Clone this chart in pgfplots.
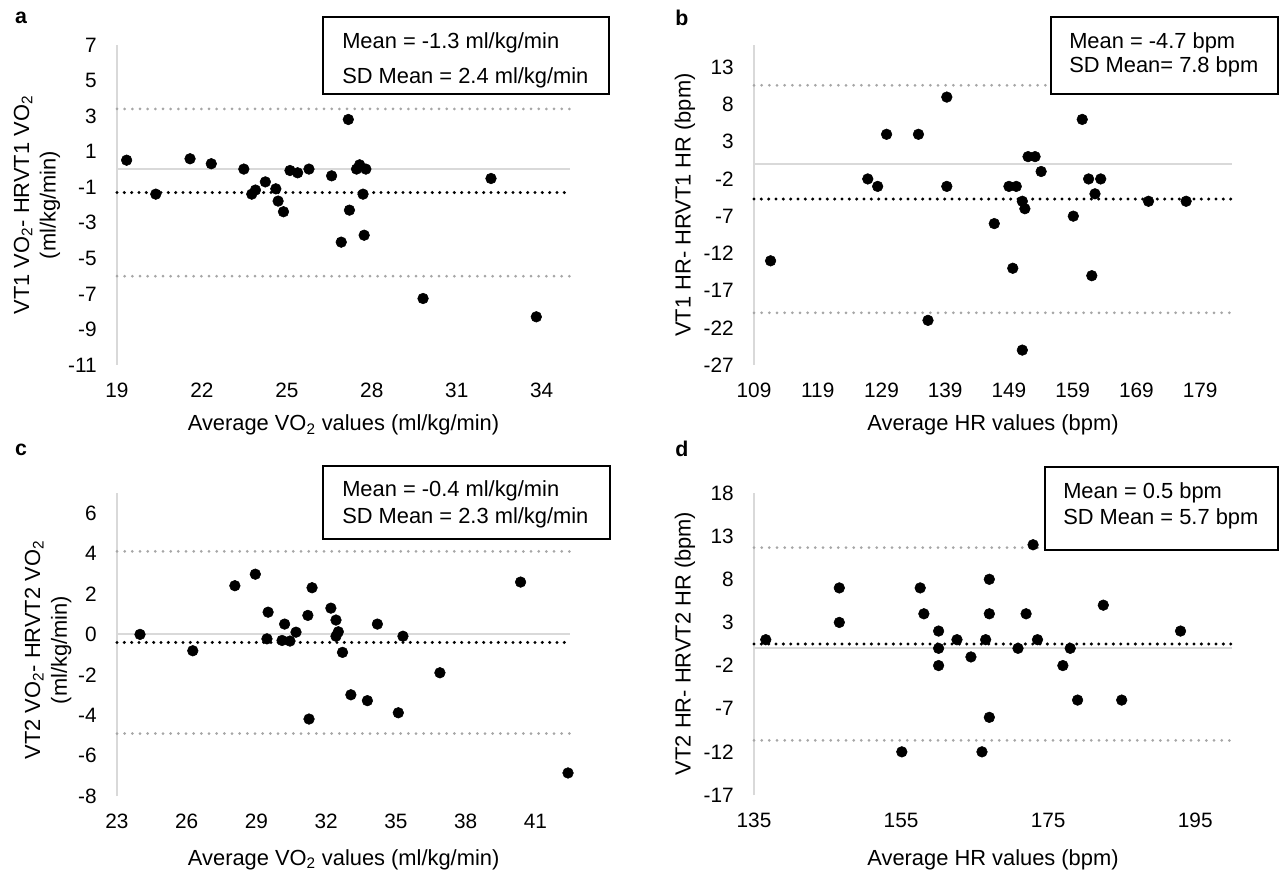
\documentclass[border=0pt]{standalone}
\usepackage{fontspec}
\setmainfont{Liberation Sans}
\usepackage{pgfplots}
\pgfplotsset{compat=1.18}

\definecolor{zline}{HTML}{D9D9D9}
\definecolor{loa}{HTML}{A6A6A6}

\newcommand\boxfont{\fontsize{16.4}{20}\selectfont}
\newcommand\labfont{\fontsize{16.4}{20}\selectfont}

\pgfplotsset{
  ba/.style={
    scale only axis,
    clip=false,
    axis x line*=bottom, axis y line*=left,
    x axis line style={draw=none},
    y axis line style={draw=zline, line width=1.5pt, -},
    major tick length=0pt,
    tick style={draw=none},
    /pgf/number format/assume math mode=true,
    tick label style={font=\fontsize{15.6}{18}\selectfont, inner sep=0pt},
    xticklabel style={anchor=base, yshift=-24.5pt},
    yticklabel style={anchor=east, xshift=-15pt},
  },
  pts/.style={only marks, mark=*, mark size=4pt, black, mark options={fill=black, draw=black}},
  loaline/.style={loa, line width=2.25pt, line cap=round, dash pattern=on 0pt off 5.75pt},
  meanline/.style={black, line width=2.5pt, line cap=round, dash pattern=on 0pt off 5.5pt},
  zeroline/.style={zline, line width=1.5pt},
}

\begin{document}
\begin{tikzpicture}
\useasboundingbox (0,0) rectangle (960pt,655.5pt);

% ---- a
\begin{axis}[ba, at={(87.75pt,381.75pt)}, anchor=south west,
  width=339.75pt, height=240pt,
  xmin=19, xmax=35, ymin=-11, ymax=7,
  xtick={19,22,...,34}, ytick={-11,-9,...,7},
  every axis x label/.style={at={(rel axis cs:0.5,-0.206)}, anchor=base, font=\labfont},
  every axis y label/.style={at={(rel axis cs:-0.1766,0.5)}, anchor=center, rotate=90, align=center, font=\labfont},
  xlabel={Average VO\textsubscript{2} values (ml/kg/min)},
  ylabel={VT1 VO\textsubscript{2}- HRVT1 VO\textsubscript{2}\\(ml/kg/min)}]
\addplot[zeroline] coordinates {(19,0) (35,0)};
\addplot[loaline] coordinates {(19,3.404) (35,3.404)};
\addplot[loaline] coordinates {(19,-6.004) (35,-6.004)};
\addplot[meanline] coordinates {(19,-1.3) (35,-1.3)};
\addplot[pts] coordinates {
(19.34,0.52) (20.37,-1.39) (21.58,0.6) (22.33,0.32) (23.48,0.02) (23.76,-1.39)
(23.89,-1.16) (24.24,-0.7) (24.61,-1.09) (24.69,-1.78) (24.88,-2.38) (25.11,-0.06)
(25.38,-0.19) (25.78,0.02) (26.58,-0.36) (27.17,2.81) (27.21,-2.29) (26.92,-4.09)
(27.46,0.02) (27.57,0.26) (27.79,0.02) (27.69,-1.39) (27.73,-3.7) (29.81,-7.26)
(32.21,-0.51) (33.81,-8.29)};
\end{axis}

% ---- b
\begin{axis}[ba, at={(565.5pt,381.75pt)}, anchor=south west,
  width=358.5pt, height=240pt,
  xmin=109, xmax=184, ymin=-27, ymax=16,
  xtick={109,119,...,179}, ytick={-27,-22,...,13},
  every axis x label/.style={at={(rel axis cs:0.5,-0.206)}, anchor=base, font=\labfont},
  every axis y label/.style={at={(rel axis cs:-0.1444,0.5)}, anchor=center, rotate=90, align=center, font=\labfont},
  xlabel={Average HR values (bpm)},
  ylabel={VT1 HR- HRVT1 HR (bpm)}]
\addplot[zeroline] coordinates {(109,0) (184,0)};
\addplot[loaline] coordinates {(109,10.588) (184,10.588)};
\addplot[loaline] coordinates {(109,-19.988) (184,-19.988)};
\addplot[meanline] coordinates {(109,-4.7) (184,-4.7)};
\addplot[pts] coordinates {
(111.6,-13) (126.85,-2) (128.4,-3) (129.8,4) (134.8,4) (136.3,-21) (139.25,9)
(139.25,-3) (146.7,-8) (149.0,-3) (150.15,-3) (149.6,-14) (151.1,-5) (151.5,-6)
(151.1,-25) (152.0,1) (153.1,1) (154.05,-1) (159.1,-7) (160.5,6) (161.5,-2)
(162.5,-4) (163.4,-2) (162.0,-15) (170.9,-5) (176.8,-5)};
\end{axis}

% ---- c
\begin{axis}[ba, at={(87.75pt,58.5pt)}, anchor=south west,
  width=340pt, height=227.25pt,
  xmin=23, xmax=42.5, ymin=-8, ymax=7,
  xtick={23,26,...,41}, ytick={-8,-6,...,6},
  every axis x label/.style={at={(rel axis cs:0.5,-0.228)}, anchor=base, font=\labfont},
  every axis y label/.style={at={(rel axis cs:-0.152,0.482)}, anchor=center, rotate=90, align=center, font=\labfont},
  xlabel={Average VO\textsubscript{2} values (ml/kg/min)},
  ylabel={VT2 VO\textsubscript{2}- HRVT2 VO\textsubscript{2}\\(ml/kg/min)}]
\addplot[zeroline] coordinates {(23,0) (42.5,0)};
\addplot[loaline] coordinates {(23,4.108) (42.5,4.108)};
\addplot[loaline] coordinates {(23,-4.908) (42.5,-4.908)};
\addplot[meanline] coordinates {(23,-0.4) (42.5,-0.4)};
\addplot[pts] coordinates {
(23.99,0.0) (26.26,-0.81) (28.07,2.41) (28.95,2.98) (29.5,1.1) (29.45,-0.22)
(30.1,-0.3) (30.21,0.51) (30.44,-0.33) (30.7,0.11) (31.21,0.94) (31.39,2.31)
(31.26,-4.19) (32.2,1.3) (32.42,0.71) (32.52,0.13) (32.42,-0.09) (32.7,-0.89)
(33.06,-2.99) (33.77,-3.28) (34.2,0.51) (35.1,-3.88) (35.3,-0.09) (40.36,2.59)
(36.89,-1.9) (42.4,-6.86)};
\end{axis}

% ---- d
\begin{axis}[ba, at={(565.5pt,59.25pt)}, anchor=south west,
  width=358.5pt, height=226.5pt,
  xmin=135, xmax=200, ymin=-17, ymax=18,
  xtick={135,155,175,195}, ytick={-17,-12,...,18},
  every axis x label/.style={at={(rel axis cs:0.5,-0.232)}, anchor=base, font=\labfont},
  every axis y label/.style={at={(rel axis cs:-0.1444,0.502)}, anchor=center, rotate=90, align=center, font=\labfont},
  xlabel={Average HR values (bpm)},
  ylabel={VT2 HR- HRVT2 HR (bpm)}]
\addplot[zeroline] coordinates {(135,0) (200,0)};
\addplot[loaline] coordinates {(135,11.672) (200,11.672)};
\addplot[loaline] coordinates {(135,-10.672) (200,-10.672)};
\addplot[meanline] coordinates {(135,0.5) (200,0.5)};
\addplot[pts] coordinates {
(136.6,1) (146.6,7) (146.6,3) (155.1,-12) (157.6,7) (158.1,4) (160.1,2) (160.1,0)
(160.1,-2) (162.6,1) (164.5,-1) (167.0,8) (167.0,4) (166.5,1) (167.0,-8) (166.0,-12)
(170.9,0) (172.95,12) (172.0,4) (173.55,1) (178.0,0) (177.0,-2) (179.0,-6) (185.0,-6)
(182.5,5) (193.0,2)};
\end{axis}

% ---- text boxes
\draw[fill=white, line width=1.25pt] (242.25pt,642.75pt) rectangle (456.75pt,585pt);
\node[anchor=base west, inner sep=0pt, font=\boxfont] at (256.5pt,619.3pt) {Mean = -1.3 ml/kg/min};
\node[anchor=base west, inner sep=0pt, font=\boxfont] at (256.5pt,593pt) {SD Mean = 2.4 ml/kg/min};

\draw[fill=white, line width=1.25pt] (788.25pt,642.75pt) rectangle (958.5pt,585pt);
\node[anchor=base west, inner sep=0pt, font=\boxfont] at (801.75pt,619.3pt) {Mean = -4.7 bpm};
\node[anchor=base west, inner sep=0pt, font=\boxfont] at (801.75pt,601pt) {SD Mean= 7.8 bpm};

\draw[fill=white, line width=1.25pt] (242.25pt,306pt) rectangle (457.5pt,251.25pt);
\node[anchor=base west, inner sep=0pt, font=\boxfont] at (256.5pt,283pt) {Mean = -0.4 ml/kg/min};
\node[anchor=base west, inner sep=0pt, font=\boxfont] at (256.5pt,263pt) {SD Mean = 2.3 ml/kg/min};

\draw[fill=white, line width=1.25pt] (783.75pt,305.25pt) rectangle (958.5pt,243pt);
\node[anchor=base west, inner sep=0pt, font=\boxfont] at (797.25pt,281.8pt) {Mean = 0.5 bpm};
\node[anchor=base west, inner sep=0pt, font=\boxfont] at (797.25pt,262.3pt) {SD Mean = 5.7 bpm};

% ---- panel letters
\node[font=\bfseries\fontsize{16}{18}\selectfont] at (15.75pt,642pt) {a};
\node[font=\bfseries\fontsize{16}{18}\selectfont] at (511.5pt,642pt) {b};
\node[font=\bfseries\fontsize{16}{18}\selectfont] at (15.75pt,318pt) {c};
\node[font=\bfseries\fontsize{16}{18}\selectfont] at (511.5pt,318.75pt) {d};
\end{tikzpicture}
\end{document}
